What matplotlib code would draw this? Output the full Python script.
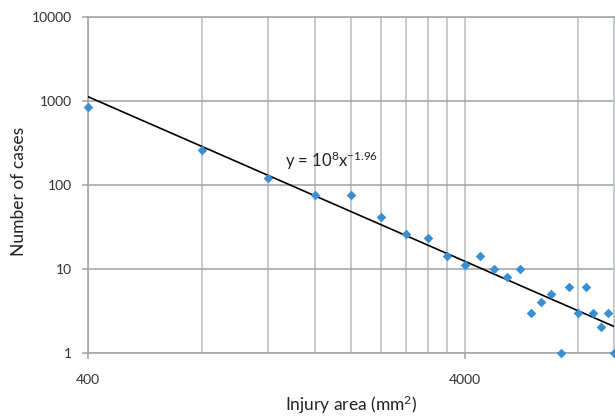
import numpy as np
import matplotlib
matplotlib.use("Agg")
import matplotlib.pyplot as plt
from matplotlib.ticker import FixedLocator, NullFormatter, FixedFormatter

plt.rcParams['font.family'] = ['Lato', 'DejaVu Sans']
plt.rcParams['mathtext.fontset'] = 'custom'
plt.rcParams['mathtext.rm'] = 'Lato'
plt.rcParams['mathtext.it'] = 'Lato'

# Data
injury_area = [400, 800, 1200, 1600, 2000, 2400, 2800, 3200, 3600, 4000,
               4400, 4800, 5200, 5600, 6000, 6400, 6800, 7200, 7600, 8000,
               8400, 8800, 9200, 9600, 10000]
cases = [830, 260, 120, 76, 75, 41, 26, 23, 14, 11,
         14, 10, 8, 10, 3, 4, 5, 1, 6, 3,
         6, 3, 2, 3, 1]
x_ticks = [400, 4000]
x_ticklabels = ['400', '4000']
y_ticks = [1, 10, 100, 1000, 10000]
y_ticklabels = ['1', '10', '100', '1000', '10000']
equation_label = r'y = 10$^{\mathregular{8}}$x$^{\mathregular{-1.96}}$'

x = np.array(injury_area, dtype=float)
y = np.array(cases, dtype=float)
slope, intercept = np.polyfit(np.log10(x), np.log10(y), 1)

fig = plt.figure(figsize=(6.15, 4.17), dpi=100)
ax = fig.add_axes([88.3 / 615, 1 - 352.7 / 417, 526 / 615, 336 / 417])
ax.set_xscale('log')
ax.set_yscale('log')
ax.set_xlim(400, 10000)
ax.set_ylim(1, 10000)

vgrid = '#bcc0c6'
hgrid = '#a4a8ad'
ax.xaxis.set_major_locator(FixedLocator(x_ticks))
ax.xaxis.set_major_formatter(FixedFormatter(x_ticklabels))
minor_x = [400 * k for k in range(2, 10)] + [8000]
ax.xaxis.set_minor_locator(FixedLocator(minor_x))
ax.xaxis.set_minor_formatter(NullFormatter())
ax.yaxis.set_major_locator(FixedLocator(y_ticks))
ax.yaxis.set_major_formatter(FixedFormatter(y_ticklabels))
ax.yaxis.set_minor_locator(FixedLocator([]))

ax.grid(True, which='major', axis='x', color=vgrid, lw=1.2)
ax.grid(True, which='minor', axis='x', color=vgrid, lw=1.2)
ax.grid(True, which='major', axis='y', color=hgrid, lw=1.2)
ax.set_axisbelow(True)

for s in ['left', 'bottom', 'top']:
    ax.spines[s].set_color(hgrid)
    ax.spines[s].set_linewidth(1.2)
ax.spines['right'].set_color(vgrid)
ax.spines['right'].set_linewidth(1.2)

ax.tick_params(axis='x', which='major', length=4, width=1.2, color=hgrid,
               pad=11, labelsize=10, labelcolor='#333333')
ax.tick_params(axis='x', which='minor', length=0)
ax.tick_params(axis='y', which='major', length=4, width=1.2, color=hgrid,
               pad=8, labelsize=10, labelcolor='#333333')

xfit = np.array([400, 10000], dtype=float)
yfit = 10 ** (intercept + slope * np.log10(xfit))
ax.plot(xfit, yfit, color='black', lw=1.2, zorder=3)

ax.scatter(x, y, marker='D', s=24, color='#3a8fd2', zorder=4, clip_on=False,
           linewidths=0)

ax.text(1334, 162, equation_label, fontsize=12, color='#222222', zorder=5,
        ha='left', va='baseline')

fig.text(351 / 615, 1 - 405 / 417, 'Injury area (mm$^{\\mathregular{2}}$)',
         fontsize=12.5, color='#222222', ha='center', va='center')
fig.text(19 / 615, 1 - 191 / 417, 'Number of cases', rotation=90,
         fontsize=12.5, color='#222222', ha='center', va='center')

fig.savefig('out.png', dpi=100)
